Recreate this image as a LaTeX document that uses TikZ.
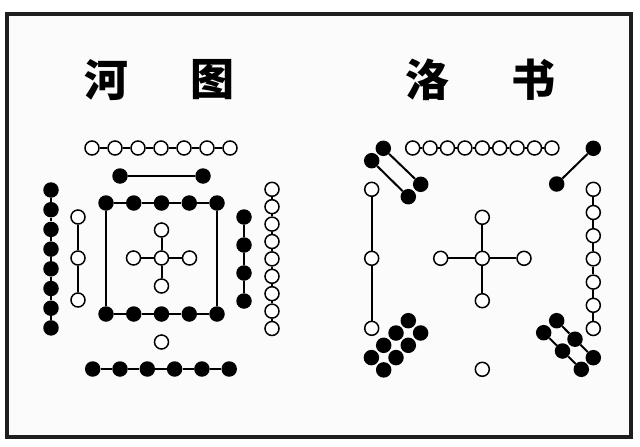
\documentclass[tikz,border=0pt]{standalone}
\usepackage{fontspec}
\newfontfamily\cjk{Noto Sans CJK SC}
\definecolor{frame}{HTML}{1E1E1E}
\definecolor{paper}{HTML}{FBFBFB}
\tikzset{
  wc/.style={circle,draw=black,fill=white,line width=1.5pt,minimum size=14pt,inner sep=0pt},
  bc/.style={circle,fill=black,minimum size=15.5pt,inner sep=0pt},
  link/.style={line width=2pt,black},
  title/.style={font=\cjk\bfseries\fontsize{44}{44}\selectfont,inner sep=0pt}
}
\begin{document}
\begin{tikzpicture}[x=1pt,y=-1pt]
\useasboundingbox (0,0) rectangle (640,447);
\fill[white] (0,0) rectangle (640,447);
\fill[paper] (7,14) rectangle (631,437);
\draw[frame,line width=4pt] (7,14) rectangle (631,437);
% titles
\node[title] (t1) at (106,80) {河};
\node[title] (t2) at (212,80) {图};
\node[title] (t3) at (427,80) {洛};
\node[title] (t4) at (533,80) {书};

% ================= He Tu =================
% top white row (7)
\foreach \i in {0,...,6} \node[wc] (hT\i) at ({92+23*\i},148) {};
\foreach \i [evaluate=\i as \j using int(\i+1)] in {0,...,5} \draw[link] (hT\i) -- (hT\j);
% black pair
\node[bc] (hP0) at (120,176) {};
\node[bc] (hP1) at (203,176) {};
\draw[link] (hP0) -- (hP1);
% left black column (8)
\foreach \i in {0,...,7} \node[bc] (hL\i) at (51,{190+19.7*\i}) {};
\foreach \i [evaluate=\i as \j using int(\i+1)] in {0,...,6} \draw[link] (hL\i) -- (hL\j);
% left white column (3)
\foreach \i/\y in {0/217,1/258,2/300} \node[wc] (hW\i) at (78,\y) {};
\draw[link] (hW0) -- (hW1); \draw[link] (hW1) -- (hW2);
% square
\foreach \i/\x in {0/106,1/133.75,2/161.5,3/189.25,4/217} {
  \node[bc] (hS\i) at (\x,203) {};
  \node[bc] (hB\i) at (\x,314) {};
}
\foreach \i [evaluate=\i as \j using int(\i+1)] in {0,...,3} {
  \draw[link] (hS\i) -- (hS\j);
  \draw[link] (hB\i) -- (hB\j);
}
\draw[link] (hS0) -- (hB0);
\draw[link] (hS4) -- (hB4);
% centre cross
\node[wc] (hC) at (161.5,258) {};
\node[wc] (hCn) at (161.5,230) {};
\node[wc] (hCs) at (161.5,286) {};
\node[wc] (hCw) at (133.5,258) {};
\node[wc] (hCe) at (189.5,258) {};
\foreach \d in {hCn,hCs,hCw,hCe} \draw[link] (hC) -- (\d);
% right black column (4)
\foreach \i/\y in {0/217,1/245,2/273,3/301} \node[bc] (hR\i) at (244,\y) {};
\foreach \i [evaluate=\i as \j using int(\i+1)] in {0,...,2} \draw[link] (hR\i) -- (hR\j);
% right white column (9)
\foreach \i in {0,...,8} \node[wc] (hV\i) at (272,{189.3+17.4*\i}) {};
\foreach \i [evaluate=\i as \j using int(\i+1)] in {0,...,7} \draw[link] (hV\i) -- (hV\j);
% bottom single white
\node[wc] (hO) at (161.5,342) {};
% bottom black row (6)
\foreach \i in {0,...,5} \node[bc] (hD\i) at ({92.7+27.3*\i},369) {};
\foreach \i [evaluate=\i as \j using int(\i+1)] in {0,...,4} \draw[link] (hD\i) -- (hD\j);

% ================= Luo Shu =================
% top white row (9)
\foreach \i in {0,...,8} \node[wc] (lT\i) at ({412.7+17.4*\i},148) {};
\foreach \i [evaluate=\i as \j using int(\i+1)] in {0,...,7} \draw[link] (lT\i) -- (lT\j);
% top-left black (4)
\node[bc] (lA1) at (383.3,148.3) {};
\node[bc] (lA2) at (371.7,160.7) {};
\node[bc] (lA3) at (420.7,184.3) {};
\node[bc] (lA4) at (408.3,196.7) {};
\draw[link] (lA1) -- (lA3);
\draw[link] (lA2) -- (lA4);
% top-right black (2)
\node[bc] (lB1) at (593.3,148.3) {};
\node[bc] (lB2) at (556.7,184) {};
\draw[link] (lB1) -- (lB2);
% left white column (3)
\foreach \i/\y in {0/189.3,1/258.3,2/328.3} \node[wc] (lW\i) at (371.7,\y) {};
\draw[link] (lW0) -- (lW1); \draw[link] (lW1) -- (lW2);
% centre cross
\node[wc] (lC) at (482.3,258.3) {};
\node[wc] (lCn) at (482.3,217.3) {};
\node[wc] (lCs) at (482.3,300.7) {};
\node[wc] (lCw) at (440.7,258.3) {};
\node[wc] (lCe) at (524,258.3) {};
\foreach \d in {lCn,lCs,lCw,lCe} \draw[link] (lC) -- (\d);
% right white column (7)
\foreach \i in {0,...,6} \node[wc] (lV\i) at (593.3,{189.3+23.2*\i}) {};
\foreach \i [evaluate=\i as \j using int(\i+1)] in {0,...,5} \draw[link] (lV\i) -- (lV\j);
% bottom single white
\node[wc] (lO) at (482.3,369.3) {};
% bottom-left black ladder (8)
\foreach \k in {0,...,3} {
  \node[bc] (lE\k) at ({408.3-12.3*\k},{320.7+12.3*\k}) {};
  \node[bc] (lF\k) at ({420.6-12.3*\k},{333+12.3*\k}) {};
}
% bottom-right black ladder (6)
\foreach \k in {0,...,2} {
  \node[bc] (lG\k) at ({556.7+18.3*\k},{320.7+18.5*\k}) {};
  \node[bc] (lH\k) at ({543.7+18.8*\k},{332.7+18.3*\k}) {};
}
\draw[link] (lG0) -- (lG1); \draw[link] (lG1) -- (lG2);
\draw[link] (lH0) -- (lH1); \draw[link] (lH1) -- (lH2);
\end{tikzpicture}
\end{document}
